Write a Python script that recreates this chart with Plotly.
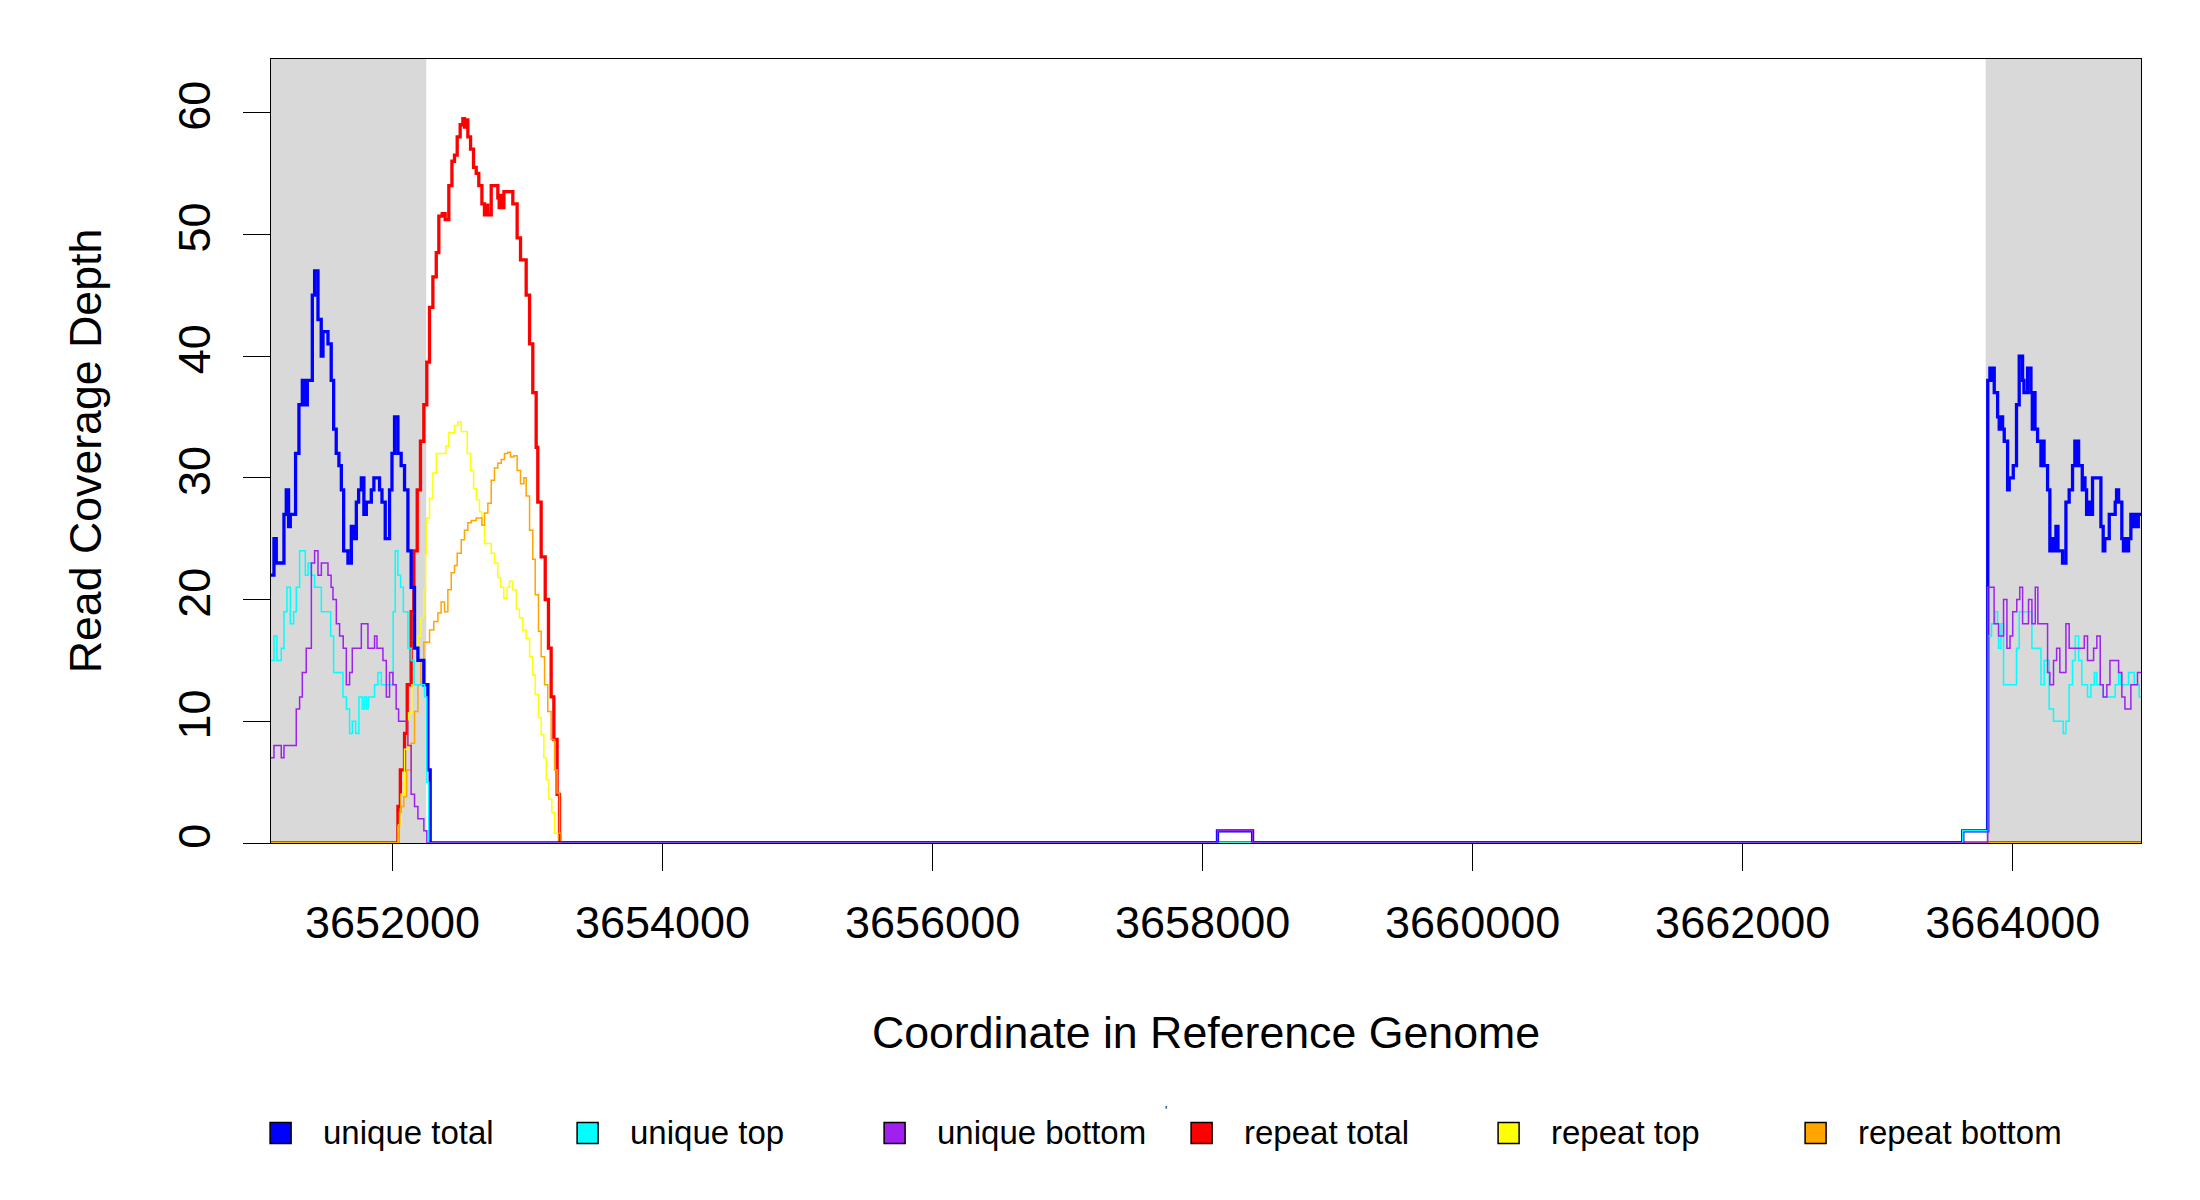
import plotly.graph_objects as go

# coverage as step functions: value holds from each position until the next one
X_START, X_END = 3651100, 3664950

ut_pos = [3651100, 3651122, 3651139, 3651196, 3651213, 3651230, 3651243, 3651282, 3651307, 3651332,
          3651349, 3651369, 3651406, 3651423, 3651448, 3651472, 3651485, 3651522, 3651546, 3651564,
          3651583, 3651603, 3651621, 3651638, 3651670, 3651695, 3651712, 3651732, 3651749, 3651769,
          3651788, 3651806, 3651843, 3651862, 3651904, 3651922, 3651946, 3651978, 3651996, 3652015,
          3652040, 3652064, 3652089, 3652114, 3652138, 3652163, 3652188, 3652232, 3652262, 3652279,
          3658110, 3658370, 3663630,
          3663815, 3663831, 3663845, 3663855, 3663863, 3663888, 3663900, 3663912, 3663925, 3663937,
          3663962, 3663974, 3664004, 3664028, 3664048, 3664073, 3664083, 3664110, 3664135, 3664145,
          3664155, 3664165, 3664184, 3664209, 3664220, 3664232, 3664258, 3664275, 3664290, 3664305,
          3664320, 3664335, 3664369, 3664394, 3664418, 3664443, 3664460, 3664470, 3664478, 3664488,
          3664515, 3664525, 3664535, 3664547, 3664560, 3664575, 3664591, 3664653, 3664670, 3664682,
          3664715, 3664759, 3664769, 3664784, 3664808, 3664820, 3664833, 3664845, 3664858, 3664875,
          3664888, 3664900, 3664915, 3664930]
ut_val = [22, 25, 23, 27, 29, 26, 27, 32, 36, 38,
          36, 38, 45, 47, 43, 40, 42, 41, 38, 34,
          32, 31, 29, 24, 23, 26, 25, 28, 29, 30,
          27, 28, 29, 30, 29, 28, 25, 29, 32, 35,
          32, 31, 29, 24, 21, 16, 15, 13, 6, 0,
          1, 0, 1,
          38, 39, 38, 39, 37, 35, 34, 35, 34, 33,
          29, 30, 31, 36, 40, 38, 37, 39, 37, 34,
          37, 34, 33, 31, 33, 31, 29, 24, 25, 24,
          26, 24, 23, 28, 29, 31, 33, 31, 33, 31,
          29, 30, 29, 27, 28, 27, 30, 26, 24, 25,
          27, 28, 29, 28, 25, 24, 25, 24, 25, 27,
          26, 27, 26, 27]

utop_pos = [3651100, 3651122, 3651144, 3651176, 3651196, 3651218, 3651243, 3651268, 3651287, 3651312,
            3651354, 3651375, 3651399, 3651423, 3651473, 3651542, 3651564, 3651633, 3651658, 3651682,
            3651702, 3651727, 3651751, 3651776, 3651790, 3651806, 3651820, 3651867, 3651892, 3651917,
            3652005, 3652020, 3652040, 3652060, 3652080, 3652114, 3652138, 3652160, 3652237, 3652254,
            3652268,
            3663630,
            3663815, 3663843, 3663868, 3663888, 3663895, 3663913, 3663932, 3664028, 3664048, 3664142,
            3664209, 3664233, 3664270, 3664302, 3664374, 3664394, 3664418, 3664443, 3664463, 3664488,
            3664512, 3664554, 3664579, 3664604, 3664623, 3664670, 3664759, 3664784, 3664801, 3664858,
            3664900, 3664937]
utop_val = [15, 17, 15, 16, 19, 21, 18, 19, 21, 24,
            22, 23, 22, 21, 19, 17, 14, 12, 11, 9,
            10, 9, 12, 11, 12, 11, 12, 13, 14, 13,
            19, 24, 22, 21, 19, 16, 15, 13, 12, 5,
            0,
            1,
            17, 18, 19, 18, 16, 18, 13, 16, 19, 16,
            13, 15, 11, 10, 9, 10, 13, 15, 17, 15,
            13, 12, 13, 14, 13, 12, 13, 14, 13, 14,
            13, 12]

ubot_pos = [3651100, 3651122, 3651176, 3651196, 3651287, 3651312, 3651332, 3651361, 3651399, 3651423,
            3651448, 3651473, 3651522, 3651545, 3651559, 3651584, 3651608, 3651635, 3651658, 3651682,
            3651702, 3651769, 3651818, 3651867, 3651885, 3651929, 3651954, 3651978, 3652003, 3652027,
            3652045, 3652114, 3652138, 3652163, 3652188, 3652232, 3652254,
            3658110, 3658370,
            3663815, 3663862, 3663895, 3663932, 3663957, 3663980, 3664000, 3664030, 3664052, 3664073,
            3664117, 3664142, 3664167, 3664186, 3664258, 3664275, 3664302, 3664325, 3664349, 3664394,
            3664418, 3664530, 3664554, 3664599, 3664623, 3664648, 3664670, 3664697, 3664720, 3664784,
            3664808, 3664831, 3664875, 3664924]
ubot_val = [7, 8, 7, 8, 11, 12, 14, 16, 23, 24,
            22, 23, 22, 21, 20, 18, 17, 16, 13, 14,
            16, 18, 16, 17, 16, 15, 12, 14, 13, 11,
            10, 8, 4, 3, 2, 1, 0,
            1, 0,
            21, 18, 17, 20, 16, 17, 19, 20, 21, 18,
            20, 18, 21, 18, 14, 13, 15, 16, 14, 18,
            16, 17, 15, 16, 17, 13, 12, 13, 15, 14,
            12, 11, 13, 14]

rt_pos = [3651100, 3652040, 3652058, 3652089, 3652109, 3652138, 3652158, 3652183, 3652207, 3652232,
          3652254, 3652274, 3652299, 3652324, 3652343, 3652368, 3652390, 3652417, 3652440, 3652459,
          3652479, 3652501, 3652521, 3652533, 3652545, 3652558, 3652578, 3652600, 3652620, 3652639,
          3652662, 3652681, 3652693, 3652705, 3652731, 3652780, 3652790, 3652800, 3652812, 3652825,
          3652891, 3652923, 3652948, 3652990, 3653015, 3653039, 3653064, 3653076, 3653101, 3653131,
          3653155, 3653175, 3653195, 3653219, 3653237]
rt_val = [0, 3, 6, 9, 13, 19, 24, 29, 33, 36,
          39.5, 44, 46.5, 48.5, 51.5, 51.7, 51.2, 54, 56, 56.5,
          58, 59, 59.5, 58.8, 59.4, 58, 57, 55.5, 55, 54,
          52.5, 51.6, 52.4, 51.6, 54, 53, 52.2, 53.2, 52.2, 53.5,
          52.5, 49.7, 47.9, 45, 41, 37, 32.5, 28, 23.5, 20,
          16, 12, 8.5, 4, 0]

rtop_pos = [3651100, 3652045, 3652064, 3652089, 3652119, 3652143, 3652168, 3652190, 3652210, 3652232,
            3652245, 3652254, 3652274, 3652299, 3652324, 3652395, 3652417, 3652459, 3652484, 3652509,
            3652553, 3652578, 3652600, 3652620, 3652644, 3652662, 3652681, 3652731, 3652755, 3652780,
            3652800, 3652824, 3652849, 3652866, 3652891, 3652916, 3652940, 3652965, 3652990, 3653015,
            3653039, 3653057, 3653081, 3653101, 3653121, 3653138, 3653158, 3653180, 3653200, 3653224]
rtop_val = [0, 1.5, 4, 7.7, 10.7, 13, 15, 17, 18.5, 20.8,
            23.7, 26.7, 28.3, 30.4, 32, 32.6, 33.7, 34.3, 34.6, 33.8,
            32, 30.6, 29.1, 28.2, 27.2, 26.1, 24.6, 23.8, 23, 21.8,
            21, 20.1, 21, 21.5, 20.8, 19.2, 18.5, 17.5, 16.8, 15.3,
            13.8, 12.2, 10.3, 8.9, 7, 5.2, 3.6, 2.5, 0.8, 0]

rbot_pos = [3651100, 3652040, 3652052, 3652064, 3652084, 3652105, 3652138, 3652163, 3652188, 3652210,
            3652232, 3652274, 3652306, 3652336, 3652360, 3652385, 3652410, 3652435, 3652459, 3652479,
            3652509, 3652533, 3652558, 3652583, 3652620, 3652662, 3652681, 3652706, 3652731, 3652755,
            3652780, 3652805, 3652829, 3652854, 3652874, 3652899, 3652923, 3652948, 3652973, 3652990,
            3653015, 3653039, 3653057, 3653081, 3653101, 3653126, 3653150, 3653175, 3653200, 3653219,
            3653237, 3653249]
rbot_val = [0, 1.4, 2.5, 3, 3.8, 6, 8.2, 10.8, 13, 15,
            16.5, 17.5, 18.2, 18.9, 19.8, 19, 20.8, 22.2, 22.8, 23.8,
            24.9, 25.7, 26.3, 26.5, 26.7, 26.1, 27.1, 27.9, 29.8, 30.8,
            31.2, 31.5, 32, 32.1, 31.7, 31.8, 30.6, 29.5, 30, 28.5,
            25.7, 23.3, 20.4, 17.4, 15.3, 13, 10.8, 8.5, 6, 4.1,
            0.8, 0]

shaded = [(3651100, 3652250), (3663800, 3664950)]
x_ticks = [3652000, 3654000, 3656000, 3658000, 3660000, 3662000, 3664000]
y_ticks = [0, 10, 20, 30, 40, 50, 60]

names = ["unique total", "unique top", "unique bottom", "repeat total", "repeat top", "repeat bottom"]
colors = ["#0000FF", "#00FFFF", "#A020F0", "#FF0000", "#FFFF00", "#FFA500"]
series = [(ut_pos, ut_val), (utop_pos, utop_val), (ubot_pos, ubot_val),
          (rt_pos, rt_val), (rtop_pos, rtop_val), (rbot_pos, rbot_val)]
widths = [3.3, 1.5, 1.5, 3.3, 1.5, 1.5]

# plot area in page pixels (page has an 8px body offset)
PW, PH = 1870, 784
L, T = 263, 51

fig = go.Figure()

# repeat lines underneath, unique lines on top
for i in [3, 4, 5, 0, 1, 2]:
    pos, val = series[i]
    fig.add_trace(go.Scatter(
        x=pos + [X_END], y=val + [val[-1]], name=names[i],
        mode="lines", line=dict(color=colors[i], width=widths[i], shape="hv"),
        showlegend=False, hoverinfo="skip",
    ))

for x0, x1 in shaded:
    fig.add_shape(type="rect", xref="x", yref="paper", x0=x0, x1=x1, y0=0, y1=1,
                  fillcolor="#D9D9D9", line_width=0, layer="below")

# R-style legend row below the axis title: filled squares + labels
def px_x(p):
    return (p - 271) / PW

def px_y(p):
    return (843 - p) / PH

for k, (name, col) in enumerate(zip(names, colors)):
    cx = 280.6 + 307 * k
    fig.add_shape(type="rect", xref="paper", yref="paper",
                  x0=px_x(cx - 10.5), x1=px_x(cx + 10.5), y0=px_y(1143.5), y1=px_y(1122.5),
                  fillcolor=col, line=dict(color="black", width=1.5))
    fig.add_annotation(text=name, x=px_x(cx + 40), y=px_y(1132), xref="paper", yref="paper",
                       xanchor="left", yanchor="middle", showarrow=False, font=dict(size=33))

fig.add_annotation(text="'", x=px_x(1166), y=px_y(1120), xref="paper", yref="paper",
                   showarrow=False, font=dict(size=12))

fig.update_layout(
    width=2200, height=1200,
    margin=dict(l=L, r=2200 - L - PW, t=T, b=1200 - T - PH),
    plot_bgcolor="white", paper_bgcolor="white",
    font=dict(family="Liberation Sans, Arial, sans-serif", size=45, color="black"),
    showlegend=False,
    xaxis=dict(range=[X_START, X_END], tickvals=x_ticks, ticktext=[str(t) for t in x_ticks],
               ticks="outside", ticklen=27, tickwidth=1.3, tickcolor="black",
               showline=True, mirror=True, linecolor="black", linewidth=1.3,
               showgrid=False, zeroline=False, layer="below traces", ticklabelstandoff=13,
               title=dict(text="Coordinate in Reference Genome", standoff=69, font=dict(size=44.7))),
    yaxis=dict(range=[0, 64.4], tickvals=y_ticks, tickangle=-90,
               ticks="outside", ticklen=27, tickwidth=1.3, tickcolor="black",
               showline=True, mirror=True, linecolor="black", linewidth=1.3,
               showgrid=False, zeroline=False, layer="below traces", ticklabelstandoff=15,
               title=dict(text="Read Coverage Depth", standoff=53, font=dict(size=44.7))),
)

fig.write_html("out.html")
